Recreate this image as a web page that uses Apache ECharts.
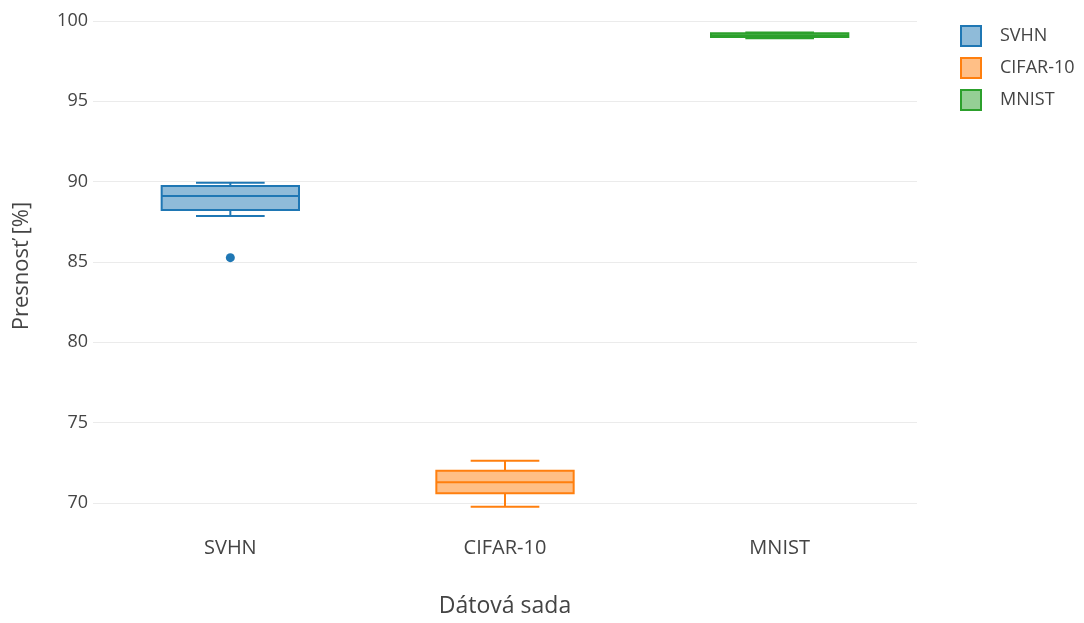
<!DOCTYPE html>
<html>
<head>
<meta charset="utf-8">
<script src="https://cdn.jsdelivr.net/npm/echarts@6/dist/echarts.min.js"></script>
<style>
  html, body { margin: 0; padding: 0; background: #fff; }
  #chart { width: 1084px; height: 623px; }
</style>
</head>
<body>
<div id="chart"></div>
<script>
// Dataset names on the x axis
const categories = ['SVHN', 'CIFAR-10', 'MNIST'];
// Box statistics per dataset: [min whisker, Q1, median, Q3, max whisker]
const svhnStats = [87.86, 88.24, 89.11, 89.73, 89.94];
const cifarStats = [69.77, 70.60, 71.29, 72.01, 72.63];
const mnistStats = [98.93, 99.01, 99.12, 99.24, 99.29];
// Points outside the whiskers
const svhnOutliers = [85.27];
// Series colours (line, fill)
const lineColors = ['#1f77b4', '#ff7f0e', '#2ca02c'];
const fillColors = ['rgba(31,119,180,0.5)', 'rgba(255,127,14,0.5)', 'rgba(44,160,44,0.5)'];

const FONT = '"Open Sans", "Noto Sans", sans-serif';
const TEXT = '#444';

function renderBox(params, api) {
  const idx = api.value(0);
  const lo = api.value(1), q1 = api.value(2), med = api.value(3), q3 = api.value(4), hi = api.value(5);
  const band = api.size([1, 0])[0];
  const bw = band * 0.5;
  const cw = bw * 0.5;
  const cx = api.coord([idx, med])[0];
  const y = v => api.coord([idx, v])[1];
  const c = lineColors[params.seriesIndex];
  const f = fillColors[params.seriesIndex];
  const ls = { stroke: c, lineWidth: 2 };
  return {
    type: 'group',
    children: [
      { type: 'line', shape: { x1: cx, y1: y(q3), x2: cx, y2: y(hi) }, style: ls },
      { type: 'line', shape: { x1: cx, y1: y(q1), x2: cx, y2: y(lo) }, style: ls },
      { type: 'line', shape: { x1: cx - cw / 2, y1: y(hi), x2: cx + cw / 2, y2: y(hi) }, style: ls },
      { type: 'line', shape: { x1: cx - cw / 2, y1: y(lo), x2: cx + cw / 2, y2: y(lo) }, style: ls },
      { type: 'rect', shape: { x: cx - bw / 2, y: y(q3), width: bw, height: y(q1) - y(q3) },
        style: { fill: f, stroke: c, lineWidth: 2 } },
      { type: 'line', shape: { x1: cx - bw / 2, y1: y(med), x2: cx + bw / 2, y2: y(med) }, style: ls }
    ]
  };
}

const allStats = [svhnStats, cifarStats, mnistStats];
const boxSeries = categories.map((name, i) => ({
  name: name,
  type: 'custom',
  renderItem: renderBox,
  itemStyle: { color: fillColors[i], borderColor: lineColors[i], borderWidth: 2 },
  encode: { x: 0, y: [1, 2, 3, 4, 5] },
  data: [[i].concat(allStats[i])]
}));

const chart = echarts.init(document.getElementById('chart'));
chart.setOption({
  animation: false,
  backgroundColor: '#fff',
  textStyle: { fontFamily: FONT },
  grid: { left: 93, right: 167, top: 13, bottom: 104, outerBoundsMode: 'none', containLabel: false },
  legend: {
    orient: 'vertical',
    left: 955,
    top: 20,
    itemWidth: 20,
    itemHeight: 20,
    itemGap: 10,
    icon: 'rect',
    textStyle: { color: TEXT, fontSize: 18, fontFamily: FONT, padding: [0, 0, 0, 14] },
    data: categories.map((name, i) => ({
      name: name,
      itemStyle: { color: fillColors[i], borderColor: lineColors[i], borderWidth: 2 }
    }))
  },
  xAxis: {
    type: 'category',
    data: categories,
    boundaryGap: true,
    axisLine: { show: false },
    axisTick: { show: false },
    axisLabel: { color: TEXT, fontSize: 20, margin: 19, fontFamily: FONT },
    name: 'Dátová sada',
    nameLocation: 'middle',
    nameGap: 76,
    nameTextStyle: { color: TEXT, fontSize: 23, fontFamily: FONT }
  },
  yAxis: {
    type: 'value',
    min: 69,
    max: 100.5,
    splitNumber: 6,
    axisLine: { show: false },
    axisTick: { show: false },
    axisLabel: { color: TEXT, fontSize: 18, margin: 5, showMinLabel: false, showMaxLabel: false, fontFamily: FONT },
    splitLine: { lineStyle: { color: '#ebebeb', width: 1 }, showMinLine: false, showMaxLine: false },
    name: 'Presnosť [%]',
    nameLocation: 'middle',
    nameGap: 60,
    nameTextStyle: { color: TEXT, fontSize: 22, fontFamily: FONT }
  },
  series: boxSeries.concat([{
    type: 'scatter',
    symbol: 'circle',
    symbolSize: 9,
    itemStyle: { color: lineColors[0], opacity: 1 },
    data: svhnOutliers.map(v => [0, v])
  }])
});
</script>
</body>
</html>
